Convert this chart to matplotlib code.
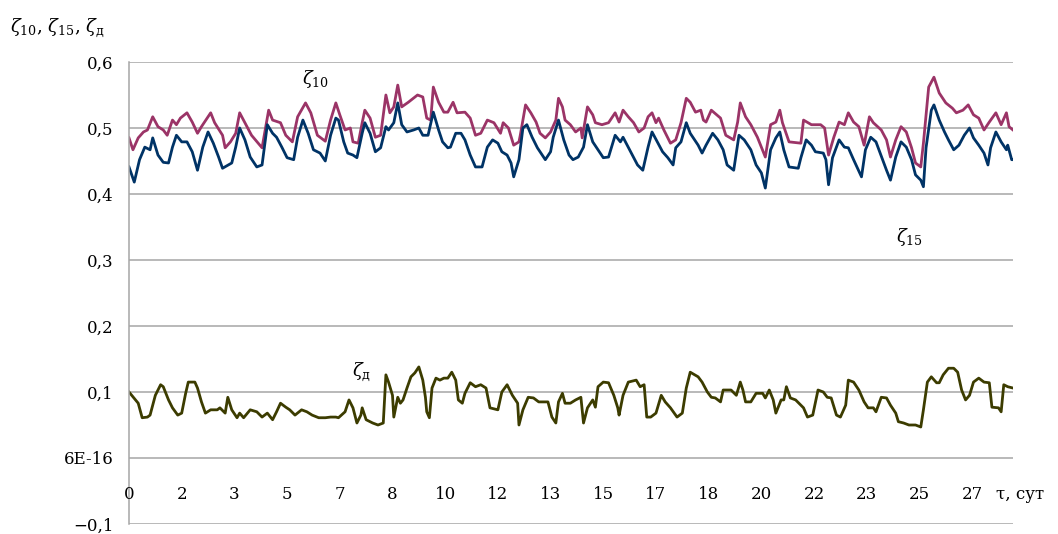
import matplotlib.pyplot as plt

# hourly series over 28 days (hour index, value)
hours_10 = [0, 3, 7, 11, 14, 18, 22, 26, 29, 33, 36, 39, 44, 48, 52, 55, 62, 65, 71, 73,
            77, 81, 84, 88, 93, 98, 101, 106, 109, 115, 119, 124, 128, 134, 138, 143, 149, 153, 157, 160,
            164, 168, 170, 174, 177, 179, 183, 187, 191, 195, 198, 201, 204, 207, 212, 219, 223, 226, 229, 231,
            235, 239, 242, 246, 249, 255, 259, 263, 267, 272, 277, 282, 284, 288, 292, 296, 297, 301, 305, 309,
            312, 316, 320, 324, 326, 329, 331, 335, 339, 343, 344, 348, 352, 354, 359, 364, 369, 372, 375, 379,
            383, 387, 391, 394, 397, 400, 402, 406, 411, 415, 419, 423, 426, 430, 434, 436, 438, 442, 449, 453,
            459, 462, 464, 468, 472, 477, 483, 487, 491, 494, 496, 501, 510, 512, 518, 525, 528, 531, 535, 539,
            543, 546, 550, 554, 558, 562, 565, 571, 575, 578, 582, 586, 590, 594, 597, 601, 603, 607, 611, 615,
            620, 625, 628, 633, 637, 641, 645, 649, 653, 658, 662, 666, 668, 671]
zeta_10 = [0.485, 0.467, 0.485, 0.494, 0.497, 0.517, 0.502, 0.497, 0.489, 0.512, 0.505, 0.515, 0.523, 0.509, 0.492, 0.502, 0.523, 0.508, 0.489, 0.470,
           0.479, 0.492, 0.523, 0.508, 0.489, 0.477, 0.470, 0.527, 0.512, 0.508, 0.489, 0.479, 0.517, 0.538, 0.523, 0.489, 0.480, 0.512, 0.538, 0.520,
           0.497, 0.500, 0.479, 0.477, 0.508, 0.527, 0.515, 0.486, 0.489, 0.550, 0.523, 0.532, 0.565, 0.532, 0.539, 0.550, 0.547, 0.515, 0.512, 0.562,
           0.539, 0.524, 0.524, 0.539, 0.523, 0.524, 0.515, 0.489, 0.492, 0.512, 0.508, 0.492, 0.508, 0.500, 0.474, 0.479, 0.489, 0.535, 0.523, 0.509,
           0.492, 0.485, 0.494, 0.512, 0.545, 0.532, 0.512, 0.505, 0.494, 0.500, 0.485, 0.532, 0.520, 0.508, 0.505, 0.508, 0.523, 0.509, 0.527, 0.517,
           0.508, 0.494, 0.500, 0.517, 0.523, 0.508, 0.515, 0.497, 0.477, 0.482, 0.508, 0.545, 0.539, 0.524, 0.527, 0.512, 0.509, 0.527, 0.515, 0.489,
           0.482, 0.509, 0.538, 0.517, 0.505, 0.486, 0.456, 0.505, 0.509, 0.527, 0.508, 0.479, 0.477, 0.512, 0.505, 0.505, 0.500, 0.459, 0.486, 0.509,
           0.505, 0.523, 0.509, 0.502, 0.474, 0.517, 0.508, 0.497, 0.482, 0.456, 0.482, 0.502, 0.494, 0.470, 0.447, 0.441, 0.477, 0.562, 0.577, 0.553,
           0.538, 0.530, 0.523, 0.527, 0.535, 0.520, 0.515, 0.497, 0.509, 0.523, 0.505, 0.523, 0.502, 0.497]

hours_15 = [0, 4, 8, 12, 16, 18, 22, 26, 30, 33, 36, 40, 44, 48, 52, 56, 60, 64, 68, 71,
            78, 81, 84, 88, 92, 97, 101, 105, 109, 112, 116, 120, 125, 128, 132, 136, 140, 145, 149, 153,
            157, 159, 163, 166, 170, 173, 177, 179, 183, 187, 191, 195, 197, 201, 204, 207, 211, 216, 220, 223,
            227, 231, 235, 238, 242, 244, 248, 252, 255, 259, 263, 268, 272, 276, 280, 283, 287, 290, 292, 296,
            299, 302, 306, 310, 316, 320, 322, 326, 330, 334, 337, 341, 345, 348, 352, 356, 360, 364, 369, 373,
            375, 380, 386, 390, 394, 397, 401, 405, 409, 413, 415, 419, 423, 426, 432, 435, 438, 443, 447, 451,
            454, 459, 463, 467, 472, 476, 480, 483, 487, 491, 494, 497, 501, 508, 510, 514, 518, 521, 527, 529,
            531, 534, 539, 543, 546, 550, 556, 559, 563, 567, 572, 575, 578, 582, 586, 590, 594, 597, 601, 603,
            605, 609, 611, 615, 619, 622, 626, 630, 634, 638, 641, 645, 649, 652, 654, 658, 662, 666, 667, 670, 671]
zeta_15 = [0.441, 0.418, 0.452, 0.471, 0.467, 0.485, 0.459, 0.448, 0.447, 0.471, 0.489, 0.479, 0.479, 0.464, 0.436, 0.471, 0.494, 0.477, 0.456, 0.439,
           0.447, 0.471, 0.500, 0.482, 0.456, 0.441, 0.444, 0.505, 0.492, 0.486, 0.471, 0.455, 0.452, 0.486, 0.512, 0.492, 0.467, 0.462, 0.450, 0.489,
           0.515, 0.512, 0.479, 0.462, 0.459, 0.455, 0.492, 0.508, 0.492, 0.464, 0.470, 0.502, 0.497, 0.508, 0.538, 0.505, 0.494, 0.497, 0.500, 0.489,
           0.489, 0.524, 0.497, 0.479, 0.470, 0.471, 0.492, 0.492, 0.482, 0.459, 0.441, 0.441, 0.471, 0.482, 0.477, 0.464, 0.459, 0.447, 0.426, 0.452,
           0.500, 0.505, 0.486, 0.470, 0.452, 0.464, 0.486, 0.512, 0.482, 0.459, 0.452, 0.456, 0.471, 0.505, 0.479, 0.467, 0.455, 0.456, 0.489, 0.479,
           0.486, 0.467, 0.444, 0.436, 0.471, 0.494, 0.479, 0.464, 0.455, 0.444, 0.470, 0.479, 0.508, 0.492, 0.474, 0.462, 0.474, 0.492, 0.482, 0.467,
           0.444, 0.436, 0.489, 0.482, 0.467, 0.444, 0.432, 0.409, 0.467, 0.485, 0.494, 0.467, 0.441, 0.439, 0.455, 0.482, 0.474, 0.464, 0.462, 0.452,
           0.414, 0.455, 0.482, 0.471, 0.470, 0.452, 0.426, 0.467, 0.486, 0.479, 0.452, 0.436, 0.421, 0.456, 0.479, 0.471, 0.452, 0.429, 0.421, 0.411,
           0.470, 0.527, 0.535, 0.512, 0.494, 0.482, 0.467, 0.474, 0.489, 0.500, 0.485, 0.474, 0.462, 0.444, 0.470, 0.494, 0.479, 0.467, 0.474, 0.452, 0.452]

hours_d = [0, 5, 7, 10, 14, 16, 20, 24, 26, 30, 33, 37, 40, 43, 45, 50, 52, 55, 58, 62,
           67, 69, 73, 75, 78, 82, 84, 87, 92, 97, 101, 105, 109, 112, 115, 119, 122, 126, 131, 135,
           139, 144, 149, 153, 157, 159, 164, 167, 170, 173, 176, 177, 180, 185, 189, 193, 195, 197, 200, 201,
           204, 206, 208, 211, 214, 217, 220, 223, 225, 226, 228, 230, 233, 236, 239, 242, 245, 248, 250, 253,
           255, 259, 263, 267, 271, 274, 280, 283, 287, 291, 295, 296, 299, 303, 307, 311, 318, 321, 324, 326,
           329, 331, 335, 339, 343, 345, 348, 352, 354, 356, 360, 364, 368, 371, 372, 375, 379, 385, 388, 391,
           393, 396, 400, 404, 407, 411, 416, 420, 423, 426, 432, 435, 439, 442, 445, 449, 451, 457, 461, 464,
           466, 468, 472, 476, 481, 483, 486, 489, 491, 495, 497, 499, 502, 506, 510, 512, 515, 519, 523, 527,
           530, 533, 537, 540, 544, 546, 550, 554, 558, 561, 565, 567, 571, 575, 578, 582, 584, 588, 592, 597,
           601, 603, 606, 609, 613, 615, 618, 622, 626, 629, 632, 635, 638, 641, 645, 649, 653, 655, 660, 662,
           664, 667, 671]
zeta_d = [0.100, 0.088, 0.083, 0.061, 0.062, 0.065, 0.095, 0.111, 0.108, 0.088, 0.076, 0.065, 0.068, 0.098, 0.115, 0.115, 0.106, 0.085, 0.068, 0.073,
          0.073, 0.076, 0.068, 0.092, 0.073, 0.061, 0.068, 0.061, 0.073, 0.070, 0.062, 0.068, 0.058, 0.070, 0.083, 0.077, 0.073, 0.065, 0.073, 0.070,
          0.065, 0.061, 0.061, 0.062, 0.062, 0.061, 0.070, 0.088, 0.076, 0.053, 0.065, 0.076, 0.058, 0.053, 0.050, 0.053, 0.126, 0.115, 0.095, 0.062,
          0.092, 0.083, 0.088, 0.106, 0.123, 0.129, 0.138, 0.118, 0.092, 0.070, 0.061, 0.106, 0.121, 0.118, 0.121, 0.121, 0.130, 0.118, 0.088, 0.083,
          0.098, 0.114, 0.108, 0.111, 0.106, 0.076, 0.073, 0.100, 0.111, 0.095, 0.083, 0.050, 0.073, 0.092, 0.091, 0.085, 0.085, 0.062, 0.053, 0.085,
          0.098, 0.083, 0.083, 0.088, 0.092, 0.053, 0.076, 0.088, 0.077, 0.108, 0.115, 0.114, 0.095, 0.076, 0.065, 0.095, 0.115, 0.118, 0.108, 0.111,
          0.062, 0.062, 0.068, 0.095, 0.085, 0.076, 0.062, 0.068, 0.106, 0.130, 0.123, 0.115, 0.100, 0.092, 0.091, 0.085, 0.103, 0.103, 0.095, 0.115,
          0.103, 0.085, 0.085, 0.098, 0.098, 0.091, 0.103, 0.088, 0.068, 0.088, 0.088, 0.108, 0.091, 0.088, 0.080, 0.076, 0.062, 0.065, 0.103, 0.100,
          0.092, 0.091, 0.065, 0.062, 0.080, 0.118, 0.115, 0.103, 0.085, 0.076, 0.076, 0.070, 0.092, 0.091, 0.080, 0.068, 0.055, 0.053, 0.050, 0.050,
          0.047, 0.073, 0.115, 0.123, 0.114, 0.114, 0.126, 0.136, 0.136, 0.130, 0.103, 0.088, 0.095, 0.115, 0.121, 0.115, 0.114, 0.077, 0.076, 0.070,
          0.111, 0.108, 0.106]

# category labels every 40 hours, shown as rounded days
tick_hours = list(range(0, 641, 40))
tick_labels = ['0', '2', '3', '5', '7', '8', '10', '12', '13', '15', '17', '18',
               '20', '22', '23', '25', '27']
y_ticks = [-0.1, 0.0, 0.1, 0.2, 0.3, 0.4, 0.5, 0.6]
y_labels = ['\u22120,1', '6E-16', '0,1', '0,2', '0,3', '0,4', '0,5', '0,6']

plt.rcParams['font.family'] = 'DejaVu Serif'
plt.rcParams['mathtext.fontset'] = 'dejavuserif'

W, H = 1058, 534
fig = plt.figure(figsize=(W / 100, H / 100), dpi=100)
ax = fig.add_axes([129 / W, 10 / H, 884 / W, 462 / H])

ax.plot(hours_10, zeta_10, color='#9B3467', lw=2.0)
ax.plot(hours_15, zeta_15, color='#003366', lw=2.0)
ax.plot(hours_d, zeta_d, color='#3C3C00', lw=2.0)

ax.set_xlim(0, 671)
ax.set_ylim(-0.1, 0.6)
ax.set_xticks([])
ax.set_yticks(y_ticks)
ax.set_yticklabels(y_labels)
ax.tick_params(axis='y', length=0, pad=11, labelsize=12)
ax.yaxis.grid(True, color='#A6A6A6', lw=1.1)
ax.set_axisbelow(True)

for side in ['top', 'right', 'bottom']:
    ax.spines[side].set_visible(False)
ax.spines['left'].set_color('#A6A6A6')
ax.spines['left'].set_linewidth(1.1)

for h, lbl in zip(tick_hours, tick_labels):
    ax.text(h, -0.056, lbl, ha='center', va='center', fontsize=12)
ax.text(658, -0.056, '\u03c4, сут', ha='left', va='center', fontsize=12, clip_on=False)

# series names next to the curves
z10 = r'$\zeta_{\mathrm{10}}$'
z15 = r'$\zeta_{\mathrm{15}}$'
zd = r'$\zeta_{\mathrm{д}}$'
ax.text(131, 0.575, z10, fontsize=13, va='center')
ax.text(582, 0.335, z15, fontsize=13, va='center')
ax.text(169, 0.131, zd, fontsize=13, va='center')

fig.text(10 / W, 1 - 28 / H, z10 + ', ' + z15 + ', ' + zd, fontsize=13, va='center')

fig.savefig('out.png', dpi=100)
